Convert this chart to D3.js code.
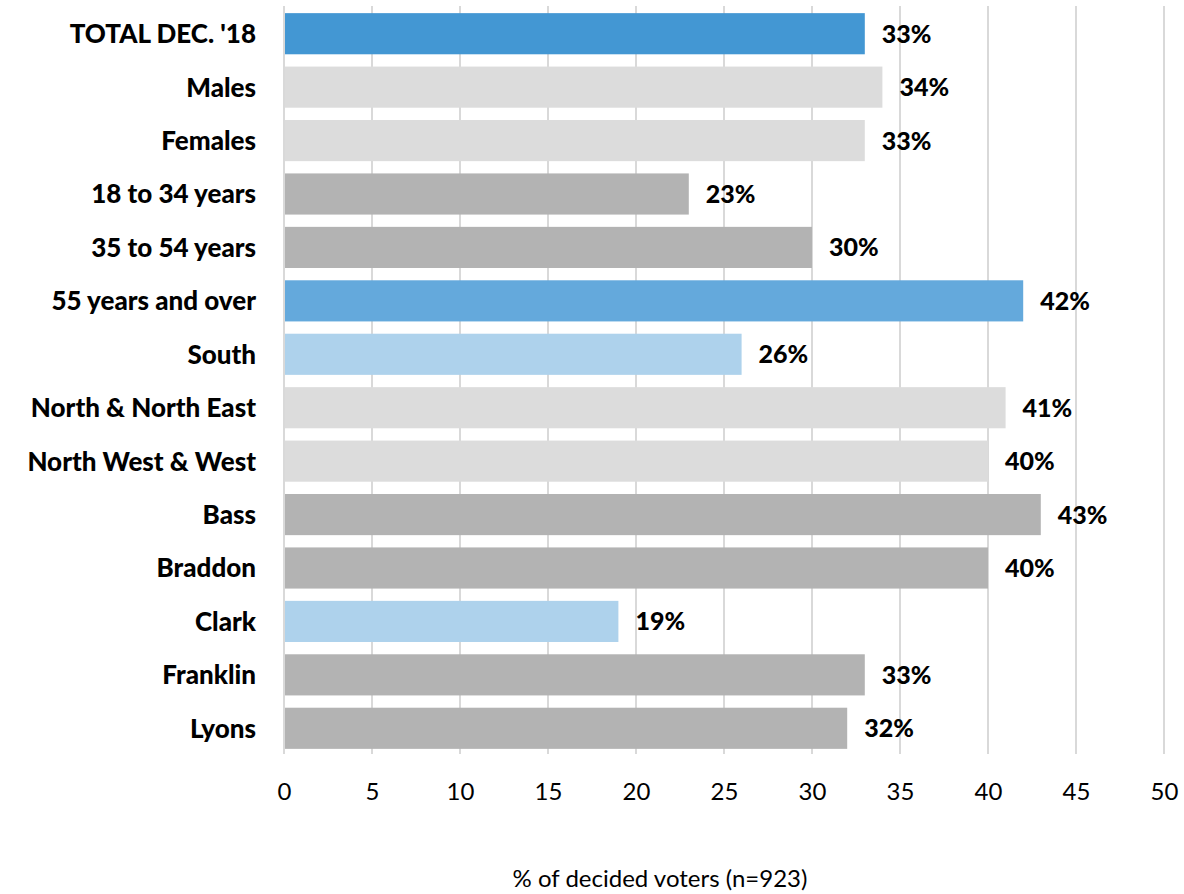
<!DOCTYPE html>
<html><head><meta charset="utf-8">
<script src="https://cdn.jsdelivr.net/npm/d3@7"></script>
<style>body{margin:0;background:#fff;} svg{display:block;}</style>
</head><body>
<svg id="chart" width="1184" height="894"></svg>
<script>
const categories = ["TOTAL DEC. '18","Males","Females","18 to 34 years","35 to 54 years","55 years and over","South","North & North East","North West & West","Bass","Braddon","Clark","Franklin","Lyons"];
const values = [33,34,33,23,30,42,26,41,40,43,40,19,33,32];
const colors = ["#4397D3","#DCDCDC","#DCDCDC","#B3B3B3","#B3B3B3","#64A9DC","#AED2EC","#DCDCDC","#DCDCDC","#B3B3B3","#B3B3B3","#AED2EC","#B3B3B3","#B3B3B3"];
const tickValues = [0,5,10,15,20,25,30,35,40,45,50];
const axisTitle = "% of decided voters (n=923)";

const svg = d3.select("#chart");
const font = "Lato, 'Open Sans', sans-serif";
const x = d3.scaleLinear().domain([0,50]).range([284,1164]);
const y = d3.scaleBand().domain(categories).range([7,755]).paddingInner(0.23).paddingOuter(0.115);

// gridlines
svg.append("g").selectAll("line").data(tickValues).join("line")
  .attr("x1",d=>x(d)).attr("x2",d=>x(d)).attr("y1",6).attr("y2",754)
  .attr("stroke","#D9D9D9").attr("stroke-width",2);

// bars
svg.append("g").selectAll("rect").data(categories).join("rect")
  .attr("x",x(0)+1).attr("y",d=>y(d)).attr("height",y.bandwidth())
  .attr("width",(d,i)=>x(values[i])-x(0)-1)
  .attr("fill",(d,i)=>colors[i]);

// value labels
svg.append("g").selectAll("text").data(categories).join("text")
  .attr("x",(d,i)=>x(values[i])+17).attr("y",d=>y(d)+y.bandwidth()/2)
  .attr("dy","0.36em").attr("font-family",font).attr("font-weight",900)
  .attr("font-size",25).attr("fill","#000")
  .text((d,i)=>values[i]+"%");

// category labels
svg.append("g").selectAll("text").data(categories).join("text")
  .attr("x",256).attr("y",d=>y(d)+y.bandwidth()/2)
  .attr("dy","0.36em").attr("text-anchor","end").attr("font-family",font).attr("font-weight",900)
  .attr("font-size",26).attr("fill","#000")
  .text(d=>d);

// x axis tick labels
const xAxis = d3.axisBottom(x).tickValues(tickValues).tickSize(0).tickPadding(0);
const ax = svg.append("g").attr("transform","translate(0,781)").call(xAxis);
ax.select(".domain").remove();
ax.selectAll("text").attr("font-family",font).attr("font-size",24).attr("fill","#000").attr("dy","0");
ax.selectAll("text").attr("dominant-baseline","hanging");

// axis title
svg.append("text").attr("x",660).attr("y",879).attr("dy","0.35em").attr("text-anchor","middle")
  .attr("font-family",font).attr("font-size",24).attr("fill","#000").text(axisTitle);
</script>
</body></html>
